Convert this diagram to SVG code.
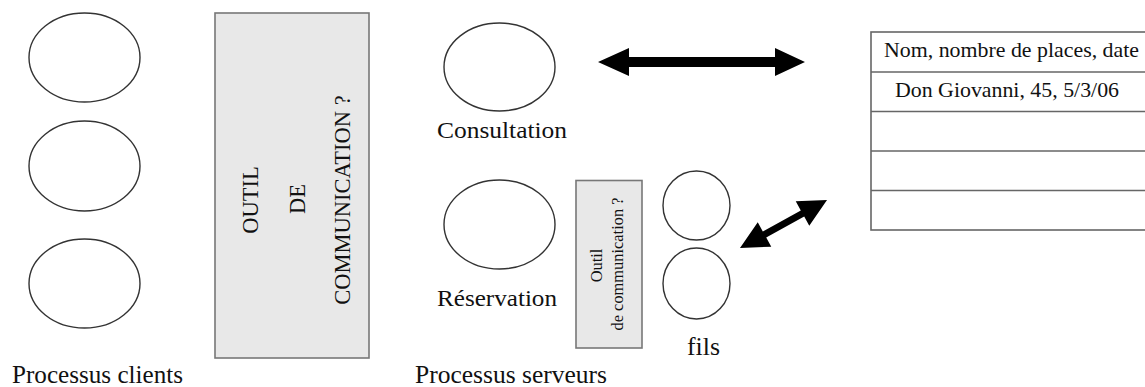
<svg xmlns="http://www.w3.org/2000/svg" width="1145" height="387" viewBox="0 0 1145 387">
<style>
.proc{fill:#fff;stroke:#333;stroke-width:1.4}
.box{fill:#e8e8e8;stroke:#777;stroke-width:1.6}
.t{font-family:"Liberation Serif","Times New Roman",serif;fill:#111}
.row{stroke:#666;stroke-width:1.6;fill:none}
.arr{fill:#000}
</style>
<rect width="1145" height="387" fill="#fff"/>
<g id="client1"><ellipse class="proc" cx="84.5" cy="57.5" rx="55.5" ry="44.5"/></g>
<g id="client2"><ellipse class="proc" cx="84.5" cy="166" rx="55.5" ry="45"/></g>
<g id="client3"><ellipse class="proc" cx="84.5" cy="283.5" rx="55.5" ry="44.5"/></g>
<g id="label-clients"><text class="t" x="12" y="383" font-size="25" textLength="171" lengthAdjust="spacingAndGlyphs">Processus clients</text></g>
<g id="outil-big">
<rect class="box" x="215" y="13" width="154" height="345"/>
<text class="t" font-size="22.5" text-anchor="middle" transform="translate(258,200) rotate(-90)">OUTIL</text>
<text class="t" font-size="22.5" text-anchor="middle" transform="translate(305,199) rotate(-90)">DE</text>
<text class="t" font-size="22.5" text-anchor="middle" transform="translate(350,200) rotate(-90)">COMMUNICATION ?</text>
</g>
<g id="consultation">
<ellipse class="proc" cx="499.5" cy="67" rx="55.5" ry="44"/>
<text class="t" x="437" y="138" font-size="24" textLength="130" lengthAdjust="spacingAndGlyphs">Consultation</text>
</g>
<g id="reservation">
<ellipse class="proc" cx="499.5" cy="224.5" rx="55.5" ry="44.5"/>
<text class="t" x="437" y="306" font-size="24" textLength="120" lengthAdjust="spacingAndGlyphs">Réservation</text>
</g>
<g id="outil-small">
<rect class="box" x="576" y="180.5" width="66" height="167.5"/>
<text class="t" font-size="16.4" text-anchor="middle" transform="translate(602,265.5) rotate(-90)">Outil</text>
<text class="t" font-size="16.4" text-anchor="middle" transform="translate(623,264) rotate(-90)">de communication ?</text>
</g>
<g id="fils">
<ellipse class="proc" cx="696.5" cy="205.5" rx="33.5" ry="34.5"/>
<ellipse class="proc" cx="696.5" cy="283.5" rx="33.5" ry="35.5"/>
<text class="t" x="687" y="355" font-size="25" textLength="33" lengthAdjust="spacingAndGlyphs">fils</text>
</g>
<g id="label-serveurs"><text class="t" x="415" y="383" font-size="25" textLength="192" lengthAdjust="spacingAndGlyphs">Processus serveurs</text></g>
<g id="table">
<rect x="871" y="32" width="290" height="198" fill="#fff" stroke="#666" stroke-width="1.6"/>
<line class="row" x1="871" y1="72" x2="1145" y2="72"/>
<line class="row" x1="871" y1="111.5" x2="1145" y2="111.5"/>
<line class="row" x1="871" y1="151" x2="1145" y2="151"/>
<line class="row" x1="871" y1="190.5" x2="1145" y2="190.5"/>
<text class="t" x="884" y="57" font-size="21.5" textLength="255" lengthAdjust="spacingAndGlyphs">Nom, nombre de places, date</text>
<text class="t" x="895" y="97" font-size="21.5" textLength="224" lengthAdjust="spacingAndGlyphs">Don Giovanni, 45, 5/3/06</text>
</g>
<g id="connectors">
<polygon class="arr" points="598,62 629,48 629,57 775,57 775,48 805,62 775,76 775,67 629,67 629,76"/>
<polygon class="arr" transform="translate(740,248) rotate(-28.9)" points="0,0 28,-14 28,-3.5 71.4,-3.5 71.4,-14 99.4,0 71.4,14 71.4,3.5 28,3.5 28,14"/>
</g>
</svg>
